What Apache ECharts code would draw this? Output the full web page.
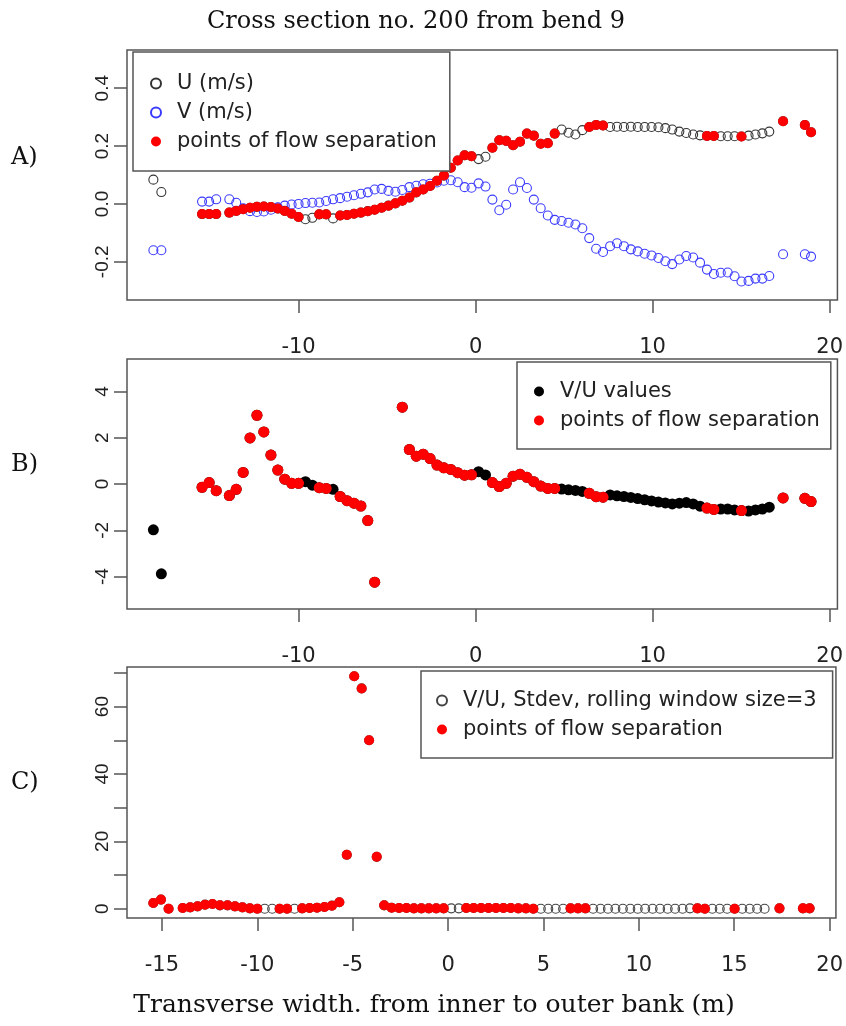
<!DOCTYPE html>
<html>
<head>
<meta charset="utf-8">
<script src="https://cdn.jsdelivr.net/npm/echarts@6.0.0/dist/echarts.min.js"></script>
<style>
  html, body { margin: 0; padding: 0; background: #fff; }
  #chart { width: 846px; height: 1026px; }
</style>
</head>
<body>
<div id="chart"></div>
<script>
// transverse position of each measuring point (m)
const xPos = [
  -18.2, -17.75, -15.45, -15.05, -14.65,
  -13.91, -13.52, -13.13, -12.74, -12.35, -11.96, -11.56, -11.17, -10.78, -10.39,
  -10.0, -9.61, -9.22, -8.83, -8.44, -8.05, -7.65, -7.26, -6.87, -6.48,
  -6.09, -5.7, -5.31, -4.92, -4.53, -4.14, -3.74, -3.35, -2.96, -2.57,
  -2.18, -1.79, -1.4, -1.01, -0.62, -0.23, 0.17, 0.56, 0.95, 1.34,
  1.73, 2.12, 2.51, 2.9, 3.29, 3.68, 4.08, 4.47, 4.86, 5.25,
  5.64, 6.03, 6.42, 6.81, 7.2, 7.6, 7.99, 8.38, 8.77, 9.16,
  9.55, 9.94, 10.33, 10.72, 11.11, 11.51, 11.9, 12.29, 12.68, 13.07,
  13.46, 13.85, 14.24, 14.63, 15.02, 15.42, 15.81, 16.2, 16.59,
  17.37, 18.6, 18.95
];

// A) streamwise velocity U (m/s)
const uVals = [
  0.084, 0.041, -0.035, -0.035, -0.035,
  -0.030, -0.024, -0.018, -0.013, -0.010, -0.009, -0.011, -0.016, -0.024, -0.034,
  -0.045, -0.053, -0.048, -0.036, -0.036, -0.050, -0.040, -0.038, -0.034, -0.030,
  -0.025, -0.020, -0.013, -0.006, 0.002, 0.011, 0.022, 0.040, 0.050, 0.062,
  0.080, 0.098, 0.125, 0.150, 0.168, 0.165, 0.155, 0.163, 0.194, 0.220,
  0.218, 0.203, 0.215, 0.243, 0.236, 0.208, 0.210, 0.243, 0.257, 0.246,
  0.240, 0.255, 0.266, 0.273, 0.271, 0.266, 0.267, 0.266, 0.267, 0.266,
  0.266, 0.266, 0.265, 0.262, 0.257, 0.250, 0.245, 0.240, 0.237, 0.235,
  0.235, 0.234, 0.234, 0.234, 0.233, 0.236, 0.240, 0.244, 0.250,
  0.286, 0.273, 0.248
];

// A) transverse velocity V (m/s)
const vVals = [
  -0.160, -0.160, 0.008, 0.008, 0.016,
  0.016, 0.004, -0.015, -0.025, -0.028, -0.026, -0.020, -0.012, -0.006, -0.002,
  0.000, 0.003, 0.004, 0.005, 0.010, 0.016, 0.020, 0.025, 0.030, 0.035,
  0.040, 0.050, 0.052, 0.045, 0.042, 0.048, 0.058, 0.063, 0.068, 0.070,
  0.074, 0.080, 0.082, 0.075, 0.058, 0.056, 0.071, 0.060, 0.015, -0.022,
  -0.003, 0.050, 0.075, 0.055, 0.015, -0.015, -0.040, -0.055, -0.059, -0.065,
  -0.071, -0.084, -0.118, -0.155, -0.166, -0.146, -0.136, -0.146, -0.157, -0.164,
  -0.172, -0.178, -0.187, -0.198, -0.208, -0.192, -0.180, -0.185, -0.203, -0.227,
  -0.242, -0.238, -0.237, -0.250, -0.268, -0.266, -0.258, -0.258, -0.249,
  -0.174, -0.174, -0.182
];

// B) V/U (null = outside the plotted range)
const vuVals = [
  -1.98, -3.88, -0.14, 0.06, -0.29,
  -0.50, -0.23, 0.50, 1.99, 2.97, 2.25, 1.25, 0.60, 0.21, 0.03,
  0.03, 0.10, -0.05, -0.16, -0.19, -0.23, -0.54, -0.72, -0.83, -0.95,
  -1.58, -4.24, null, null, null, 3.32, 1.49, 1.20, 1.29, 1.10,
  0.82, 0.70, 0.63, 0.49, 0.38, 0.40, 0.53, 0.39, 0.06, -0.11,
  0.03, 0.34, 0.42, 0.29, 0.10, -0.09, -0.19, -0.19, -0.22, -0.25,
  -0.28, -0.32, -0.40, -0.55, -0.57, -0.47, -0.51, -0.54, -0.58, -0.63,
  -0.68, -0.73, -0.78, -0.82, -0.86, -0.83, -0.80, -0.86, -0.96, -1.04,
  -1.10, -1.08, -1.08, -1.12, -1.15, -1.17, -1.12, -1.08, -1.00,
  -0.60, -0.62, -0.76
];

// C) rolling stdev of V/U, window 3
const sdVals = [
  null, null, 1.7, 2.7, 0.0,
  0.2, 0.4, 0.7, 1.2, 1.4, 1.0, 1.0, 0.7, 0.4, 0.1,
  0.0, 0.0, 0.0, 0.0, 0.0, 0.0, 0.1, 0.2, 0.3, 0.5,
  0.9, 1.9, 16.0, 69.0, 65.4, 50.0, 15.4, 1.0, 0.3, 0.2,
  0.2, 0.1, 0.1, 0.1, 0.1, 0.1, 0.1, 0.1, 0.2, 0.2,
  0.2, 0.2, 0.2, 0.2, 0.2, 0.1, 0.1, 0.0, 0.0, 0.0,
  0.0, 0.0, 0.1, 0.1, 0.1, 0.0, 0.0, 0.0, 0.0, 0.0,
  0.0, 0.0, 0.0, 0.0, 0.0, 0.0, 0.0, 0.0, 0.1, 0.1,
  0.0, 0.0, 0.0, 0.0, 0.0, 0.0, 0.0, 0.0, 0.0,
  0.1, 0.1, 0.1
];

// 1 = point of flow separation
const sepFlag = [
  0, 0, 1, 1, 1,
  1, 1, 1, 1, 1, 1, 1, 1, 1, 1,
  1, 0, 0, 1, 1, 0, 1, 1, 1, 1,
  1, 1, 1, 1, 1, 1, 1, 1, 1, 1,
  1, 1, 1, 1, 1, 1, 0, 0, 1, 1,
  1, 1, 1, 1, 1, 1, 1, 1, 0, 0,
  0, 0, 1, 1, 1, 0, 0, 0, 0, 0,
  0, 0, 0, 0, 0, 0, 0, 0, 0, 1,
  1, 0, 0, 0, 1, 0, 0, 0, 0,
  1, 1, 1
];

const xTicksAB = [-10, 0, 10, 20];
const xTicksC = [-15, -10, -5, 0, 5, 10, 15, 20];
const yTicksA = [-0.2, 0, 0.2, 0.4];
const yTicksB = [-4, -2, 0, 2, 4];
const yTicksC = [0, 10, 20, 30, 40, 50, 60, 70];
const yLabelsC = [0, 20, 40, 60];

const SEP = 'points of flow separation';
const boxColor = '#555';
const txtColor = '#222';

function pairs(vals, keep) {
  const out = [];
  xPos.forEach((x, i) => {
    if (vals[i] != null && keep(i)) out.push([x, vals[i]]);
  });
  return out;
}
const all = () => true;
const isSep = i => sepFlag[i] === 1;

function xAxisDef(gridIndex, min, max, ticks) {
  return {
    type: 'value', gridIndex, min, max,
    axisLine: { show: false, onZero: false },
    splitLine: { show: false },
    axisTick: { show: true, length: 13, customValues: ticks, lineStyle: { color: boxColor, width: 1.5 } },
    axisLabel: { customValues: ticks, margin: 37, fontFamily: 'DejaVu Sans', fontSize: 21, color: txtColor }
  };
}
function yAxisDef(gridIndex, min, max, ticks, labels, fmt) {
  return {
    type: 'value', gridIndex, min, max,
    axisLine: { show: false, onZero: false },
    splitLine: { show: false },
    axisTick: { show: true, length: 13, customValues: ticks, lineStyle: { color: boxColor, width: 1.5 } },
    axisLabel: {
      customValues: labels, rotate: 90, margin: 15,
      fontFamily: 'Liberation Sans', fontSize: 19, color: txtColor,
      formatter: fmt
    }
  };
}
function gridDef(top, height) {
  return { left: 127, right: 8, top, height, show: true, borderColor: boxColor, borderWidth: 1.5, backgroundColor: 'transparent' };
}
function legendDef(left, top, padding, names) {
  return {
    left, top, padding, orient: 'vertical', selectedMode: false,
    itemWidth: 32, itemHeight: 10, itemGap: 8,
    borderColor: boxColor, borderWidth: 1.5, backgroundColor: '#fff',
    textStyle: { fontFamily: 'DejaVu Sans', fontSize: 21, lineHeight: 20, color: txtColor },
    data: names.map(n => ({ name: n, icon: 'circle' }))
  };
}
const openCircle = (color, size) => ({
  type: 'scatter', symbol: 'circle', symbolSize: size,
  itemStyle: { color: 'rgba(255,255,255,0)', borderColor: color, borderWidth: 1.1, opacity: 1 }
});
const dot = (color, size) => ({
  type: 'scatter', symbol: 'circle', symbolSize: size,
  itemStyle: { color, borderWidth: 0, opacity: 1 }
});

const chart = echarts.init(document.getElementById('chart'));

const option = {
  backgroundColor: '#fff',
  animation: false,
  grid: [gridDef(50, 250), gridDef(359, 250), gridDef(667, 251)],
  xAxis: [
    xAxisDef(0, -19.69, 20.44, xTicksAB),
    xAxisDef(1, -19.69, 20.44, xTicksAB),
    xAxisDef(2, -16.83, 20.33, xTicksC)
  ],
  yAxis: [
    yAxisDef(0, -0.332, 0.532, yTicksA, yTicksA, v => v.toFixed(1)),
    yAxisDef(1, -5.4, 5.4, yTicksB, yTicksB, v => String(v)),
    yAxisDef(2, -2.76, 71.76, yTicksC, yLabelsC, v => String(v))
  ],
  legend: [
    legendDef(133, 52, [21, 13, 19, 17], ['U (m/s)', 'V (m/s)', SEP]),
    legendDef(517, 362, [19, 11, 18, 17], ['V/U values', SEP]),
    legendDef(421, 671, [19, 16, 18, 15], ['V/U, Stdev, rolling window size=3', SEP])
  ],
  series: [
    Object.assign(openCircle('#333', 9), { name: 'U (m/s)', xAxisIndex: 0, yAxisIndex: 0, data: pairs(uVals, all) }),
    Object.assign(openCircle('#3b3bff', 9), { name: 'V (m/s)', xAxisIndex: 0, yAxisIndex: 0, data: pairs(vVals, all) }),
    Object.assign(dot('#ff0000', 10), { name: SEP, xAxisIndex: 0, yAxisIndex: 0, data: pairs(uVals, isSep) }),

    Object.assign(dot('#000', 11), { name: 'V/U values', xAxisIndex: 1, yAxisIndex: 1, data: pairs(vuVals, all) }),
    Object.assign(dot('#ff0000', 11), { name: SEP, xAxisIndex: 1, yAxisIndex: 1, data: pairs(vuVals, isSep) }),

    Object.assign(openCircle('#444', 9), { name: 'V/U, Stdev, rolling window size=3', xAxisIndex: 2, yAxisIndex: 2, data: pairs(sdVals, all) }),
    Object.assign(dot('#ff0000', 10), { name: SEP, xAxisIndex: 2, yAxisIndex: 2, data: pairs(sdVals, isSep) })
  ],
  graphic: [
    { type: 'text', x: 416, y: 22, style: { text: 'Cross section no. 200 from bend 9', font: '24px "DejaVu Serif"', fill: '#111', align: 'center', verticalAlign: 'middle' } },
    { type: 'text', x: 11, y: 158, style: { text: 'A)', font: '24px "DejaVu Serif"', fill: '#111', align: 'left', verticalAlign: 'middle' } },
    { type: 'text', x: 11, y: 465, style: { text: 'B)', font: '24px "DejaVu Serif"', fill: '#111', align: 'left', verticalAlign: 'middle' } },
    { type: 'text', x: 11, y: 783, style: { text: 'C)', font: '24px "DejaVu Serif"', fill: '#111', align: 'left', verticalAlign: 'middle' } },
    { type: 'text', x: 434, y: 1005, style: { text: 'Transverse width. from inner to outer bank (m)', font: '25px "DejaVu Serif"', fill: '#111', align: 'center', verticalAlign: 'middle' } }
  ]
};

chart.setOption(option);
</script>
</body>
</html>
